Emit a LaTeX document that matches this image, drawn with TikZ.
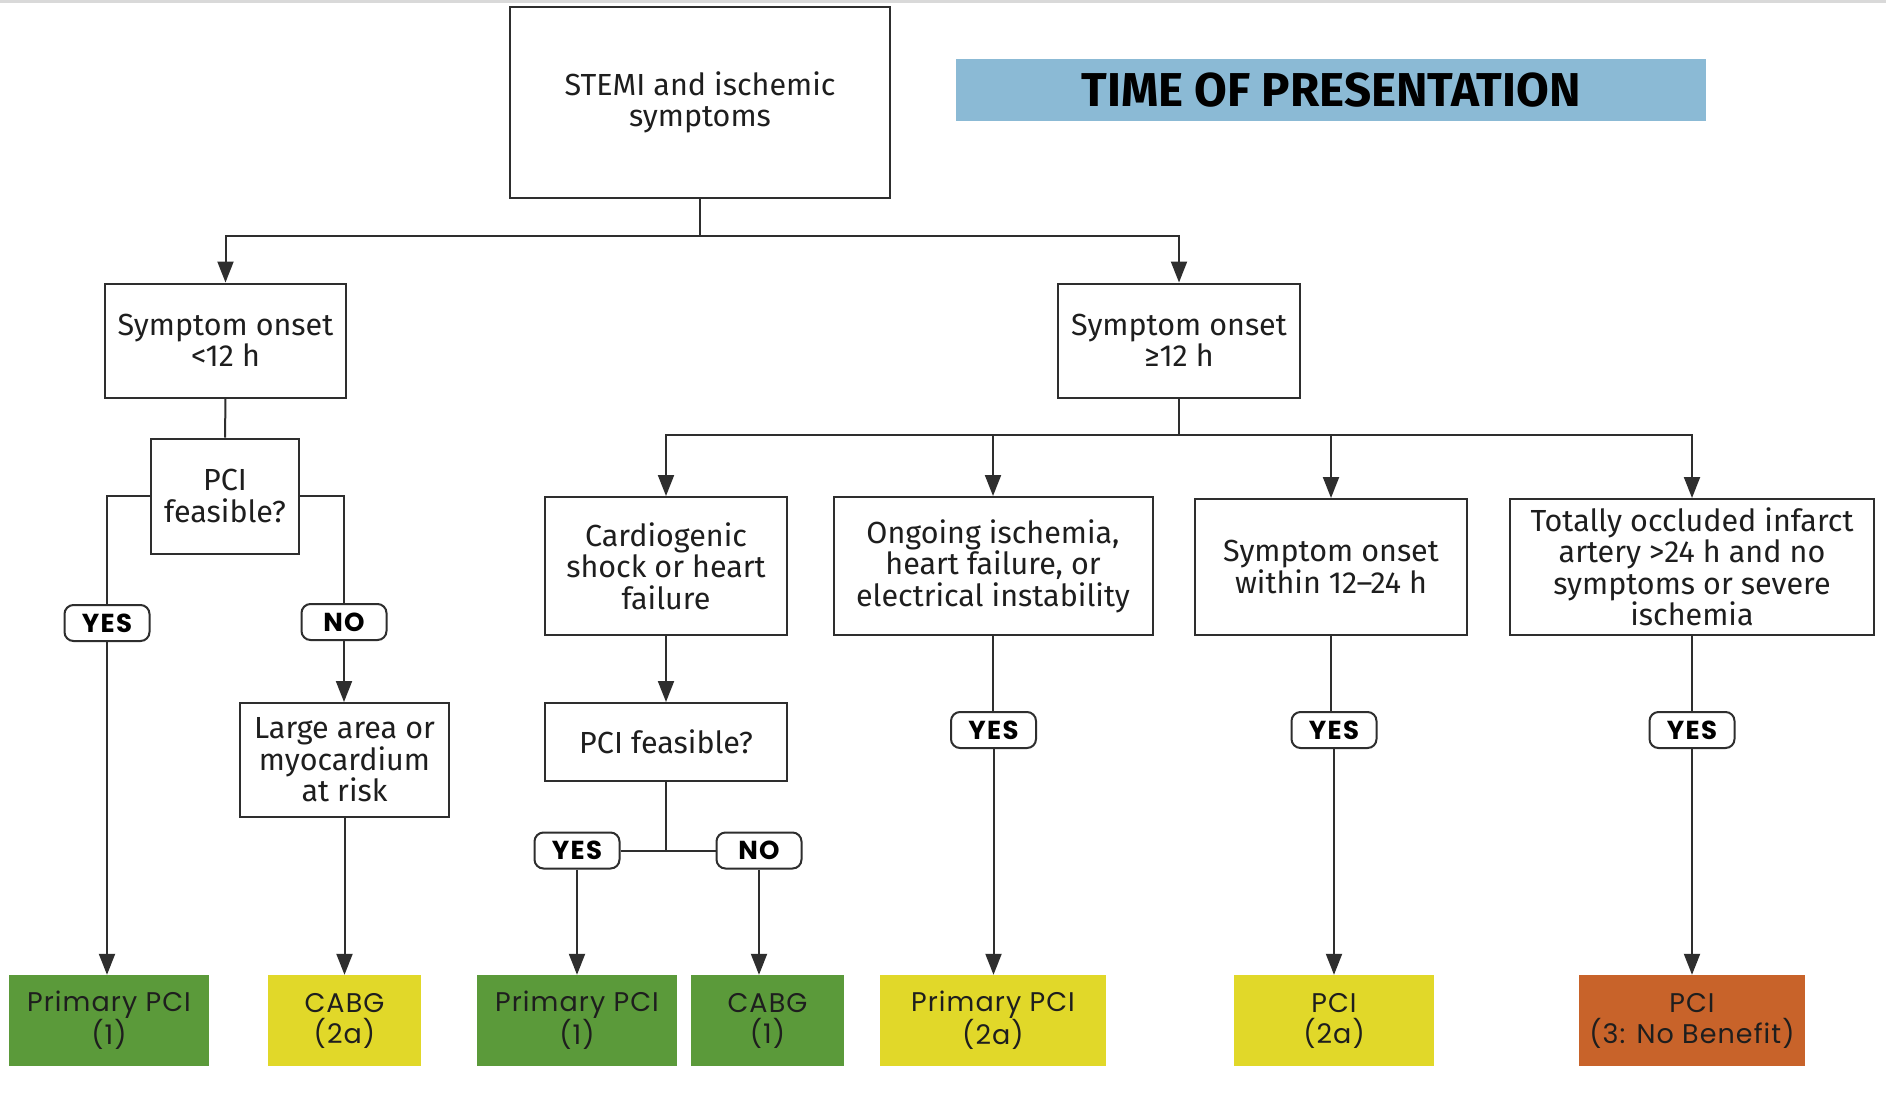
\documentclass[tikz,border=0pt]{standalone}
\usepackage{fontspec}
\setmainfont{Fira Sans}
\newfontfamily\resfont[LetterSpace=4]{Poppins}
\newfontfamily\pillfont[LetterSpace=5]{Poppins}
\usetikzlibrary{arrows.meta}

\definecolor{linegray}{HTML}{2E2E2E}
\definecolor{textdark}{HTML}{1E1E1E}
\definecolor{bandgray}{HTML}{D9D9D9}
\definecolor{titleblue}{HTML}{8BBAD5}
\definecolor{resgreen}{HTML}{5B9A3A}
\definecolor{resyellow}{HTML}{E1D829}
\definecolor{resorange}{HTML}{C8632A}

\begin{document}
\begin{tikzpicture}[x=1pt,y=-1pt,
  box/.style={draw=linegray, line width=2pt, fill=white, align=center,
    text=textdark, inner sep=0pt, font=\fontsize{30.5}{31.5}\selectfont},
  pill/.style={draw=linegray, line width=2pt, rounded corners=9pt, fill=white,
    minimum width=85pt, minimum height=36pt, inner sep=0pt, text=black,
    font=\pillfont\bfseries\fontsize{26}{27}\selectfont},
  result/.style={minimum height=91pt, inner sep=0pt, align=center, text=textdark,
    font=\resfont\fontsize{27}{31}\selectfont},
  conn/.style={line width=2pt, draw=linegray},
  arr/.style={conn, -{Triangle[length=21pt,width=16pt]}}
]
\useasboundingbox (0,0) rectangle (1886,1095);
\fill[white] (0,0) rectangle (1886,1095);
\fill[bandgray] (0,0) rectangle (1886,3);

% header
\node[box, minimum width=380pt, minimum height=191pt] (stemi) at (700,102.5)
  {STEMI and ischemic\\symptoms};
\node[fill=titleblue, minimum width=750pt, minimum height=62pt, inner sep=0pt,
  font=\bfseries\fontsize{47.5}{48}\selectfont, text=black] (title) at (1331,90)
  {TIME OF PRESENTATION};

% first split
\node[box, minimum width=241pt, minimum height=114pt] (early) at (225.5,340.5)
  {Symptom onset\\<12 h};
\node[box, minimum width=242pt, minimum height=114pt] (late) at (1179,340.5)
  {Symptom onset\\≥12 h};

% early branch
\node[box, minimum width=148pt, minimum height=115pt] (pcif1) at (225,496)
  {PCI\\feasible?};
\node[pill] (yes1) at (107,623) {YES};
\node[pill] (no1) at (344,622) {NO};
\node[box, minimum width=209pt, minimum height=114pt] (large) at (344.5,760)
  {Large area or\\myocardium\\at risk};
\node[result, fill=resgreen, minimum width=200pt] (r1) at (109,1020.5)
  {Primary PCI\\(1)};
\node[result, fill=resyellow, minimum width=153pt] (r2) at (344.5,1020.5)
  {CABG\\(2a)};

% late branch
\node[box, minimum width=242pt, minimum height=138pt] (card) at (666,566)
  {Cardiogenic\\shock or heart\\failure};
\node[box, minimum width=319pt, minimum height=138pt] (ong) at (993,566)
  {Ongoing ischemia,\\heart failure, or\\electrical instability};
\node[box, minimum width=272pt, minimum height=136pt] (within) at (1331,567)
  {Symptom onset\\within 12–24 h};
\node[box, minimum width=364pt, minimum height=136pt] (tot) at (1692,567)
  {Totally occluded infarct\\artery >24 h and no\\symptoms or severe\\ischemia};

\node[box, minimum width=242pt, minimum height=78pt] (pcif2) at (666,742)
  {PCI feasible?};
\node[pill] (yes2) at (577,850.5) {YES};
\node[pill] (no2) at (759,850.5) {NO};
\node[pill] (yes3) at (993.5,730) {YES};
\node[pill] (yes4) at (1334,730) {YES};
\node[pill] (yes5) at (1692,730) {YES};

\node[result, fill=resgreen, minimum width=200pt] (r3) at (577,1020.5)
  {Primary PCI\\(1)};
\node[result, fill=resgreen, minimum width=153pt] (r4) at (767.5,1020.5)
  {CABG\\(1)};
\node[result, fill=resyellow, minimum width=226pt] (r5) at (993,1020.5)
  {Primary PCI\\(2a)};
\node[result, fill=resyellow, minimum width=200pt] (r6) at (1334,1020.5)
  {PCI\\(2a)};
\node[result, fill=resorange, minimum width=226pt] (r7) at (1692,1020.5)
  {PCI\\(3: No Benefit)};

% junction points
\coordinate (j0) at (700,236);
\coordinate (j1) at (1179,435);
\coordinate (j2) at (666,851);

% connectors: header
\draw[conn] (stemi.south) -- (j0);
\draw[arr] (j0) -| (early.north);
\draw[arr] (j0) -| (late.north);

% connectors: early branch
\draw[conn] (early.south) -- (pcif1.north);
\draw[conn] (pcif1.west) -| (yes1.north);
\draw[arr] (yes1.south) -- (yes1.south |- r1.north);
\draw[conn] (pcif1.east) -| (no1.north);
\draw[arr] (no1.south) -- (no1.south |- large.north);
\draw[arr] (large.south) -- (r2.north);

% connectors: late branch
\draw[conn] (late.south) -- (j1);
\draw[arr] (j1) -| (card.north);
\draw[arr] (j1) -| (ong.north);
\draw[arr] (j1) -| (within.north);
\draw[arr] (j1) -| (tot.north);

\draw[arr] (card.south) -- (pcif2.north);
\draw[conn] (pcif2.south) -- (j2);
\draw[conn] (yes2.east) -- (no2.west);
\draw[arr] (yes2.south) -- (yes2.south |- r3.north);
\draw[arr] (no2.south) -- (no2.south |- r4.north);

\draw[conn] (ong.south) -- (ong.south |- yes3.north);
\draw[arr] (yes3.south) -- (yes3.south |- r5.north);
\draw[conn] (within.south) -- (within.south |- yes4.north);
\draw[arr] (yes4.south) -- (yes4.south |- r6.north);
\draw[conn] (tot.south) -- (tot.south |- yes5.north);
\draw[arr] (yes5.south) -- (yes5.south |- r7.north);
\end{tikzpicture}
\end{document}
